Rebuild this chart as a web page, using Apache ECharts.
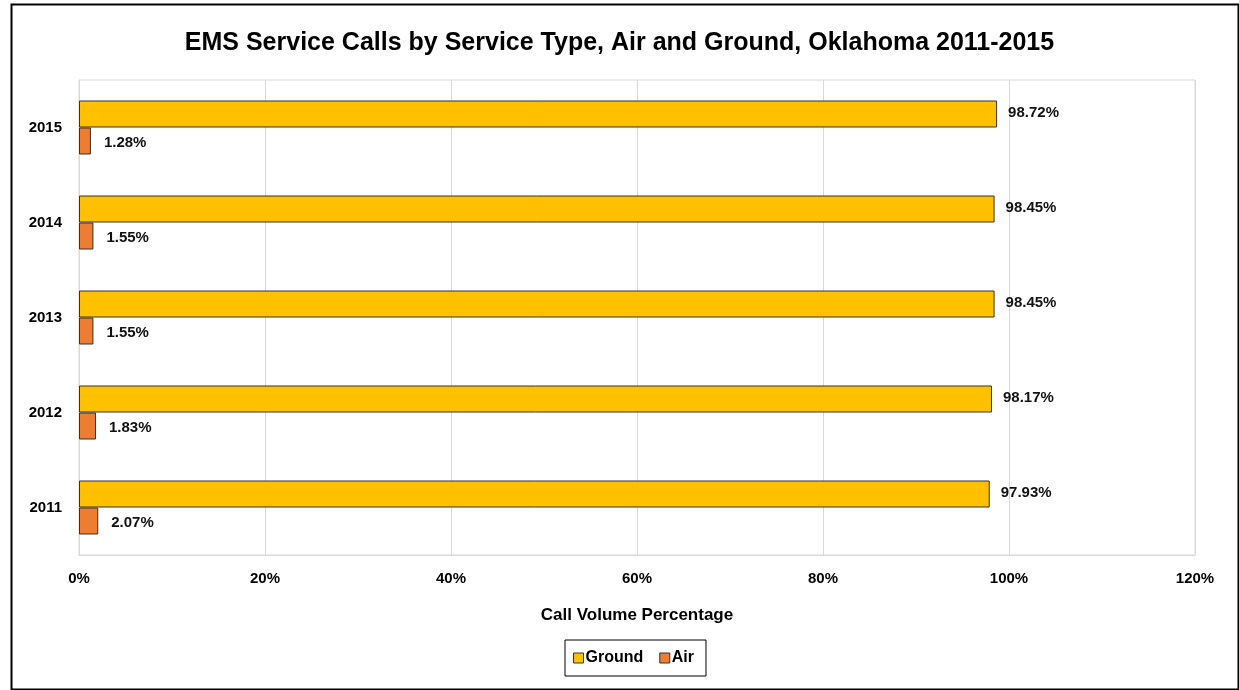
<!DOCTYPE html>
<html>
<head>
<meta charset="utf-8">
<script src="https://cdn.jsdelivr.net/npm/echarts@6/dist/echarts.min.js"></script>
<style>html,body{margin:0;padding:0;background:#fff}#c{width:1239px;height:690px}</style>
</head>
<body>
<div id="c"></div>
<script>
const years = ['2015', '2014', '2013', '2012', '2011'];
const groundValues = [98.72, 98.45, 98.45, 98.17, 97.93];
const airValues = [1.28, 1.55, 1.55, 1.83, 2.07];
const xTicks = { min: 0, max: 120, interval: 20 };

const FONT = "'Liberation Sans Narrow', 'Liberation Sans', Arial, sans-serif";
const chart = echarts.init(document.getElementById('c'), null, { renderer: 'canvas' });
chart.setOption({
  backgroundColor: '#fff',
  animation: false,
  textStyle: { fontFamily: FONT },
  graphic: [{
    type: 'rect', left: 9, top: 2, z: 100,
    shape: { width: 1227, height: 685 },
    style: { fill: 'none', stroke: '#000', lineWidth: 2 }
  }],
  title: {
    text: 'EMS Service Calls by Service Type, Air and Ground, Oklahoma 2011-2015',
    left: 'center', top: 26,
    textStyle: { fontFamily: FONT, fontSize: 25, fontWeight: 'bold', color: '#000' }
  },
  legend: {
    bottom: 14, left: 565,
    data: ['Ground', 'Air'],
    icon: 'rect',
    itemWidth: 10, itemHeight: 10, itemGap: 16,
    padding: [10, 12, 10, 8],
    borderColor: '#000', borderWidth: 1,
    itemStyle: { borderColor: '#333', borderWidth: 1 },
    textStyle: { fontFamily: FONT, fontSize: 16, fontWeight: 'bold', color: '#000', padding: [0, 0, 0, -3] }
  },
  grid: { left: 79, right: 44, top: 80, bottom: 135, containLabel: false,
    show: true, borderColor: '#d9d9d9', borderWidth: 1 },
  xAxis: {
    type: 'value', min: xTicks.min, max: xTicks.max, interval: xTicks.interval,
    name: 'Call Volume Percentage', nameLocation: 'middle', nameGap: 52,
    nameTextStyle: { fontFamily: FONT, fontSize: 17, fontWeight: 'bold', color: '#000' },
    axisLabel: { formatter: '{value}%', fontFamily: FONT, fontSize: 15, fontWeight: 'bold', color: '#000', margin: 16 },
    axisLine: { show: true, lineStyle: { color: '#d9d9d9' } },
    axisTick: { show: false },
    splitLine: { show: true, lineStyle: { color: '#d9d9d9', width: 1 } }
  },
  yAxis: {
    type: 'category', data: years, inverse: true,
    axisLabel: { fontFamily: FONT, fontSize: 15, fontWeight: 'bold', color: '#000', margin: 17 },
    axisLine: { show: true, lineStyle: { color: '#d9d9d9' } },
    axisTick: { show: false },
    splitLine: { show: false }
  },
  series: [
    {
      name: 'Ground', type: 'bar', data: groundValues,
      barWidth: 27, barGap: '0%',
      itemStyle: { color: '#FFC000', borderColor: '#333', borderWidth: 1 },
      label: { show: true, position: 'right', distance: 11, offset: [0, -1], formatter: p => p.value.toFixed(2) + '%',
        fontFamily: FONT, fontSize: 15, fontWeight: 'bold', color: '#111' }
    },
    {
      name: 'Air', type: 'bar', data: airValues,
      barWidth: 27,
      itemStyle: { color: '#ED7D31', borderColor: '#333', borderWidth: 1 },
      label: { show: true, position: 'right', distance: 13, offset: [0, 2], formatter: p => p.value.toFixed(2) + '%',
        fontFamily: FONT, fontSize: 15, fontWeight: 'bold', color: '#111' }
    }
  ]
});
</script>
</body>
</html>
